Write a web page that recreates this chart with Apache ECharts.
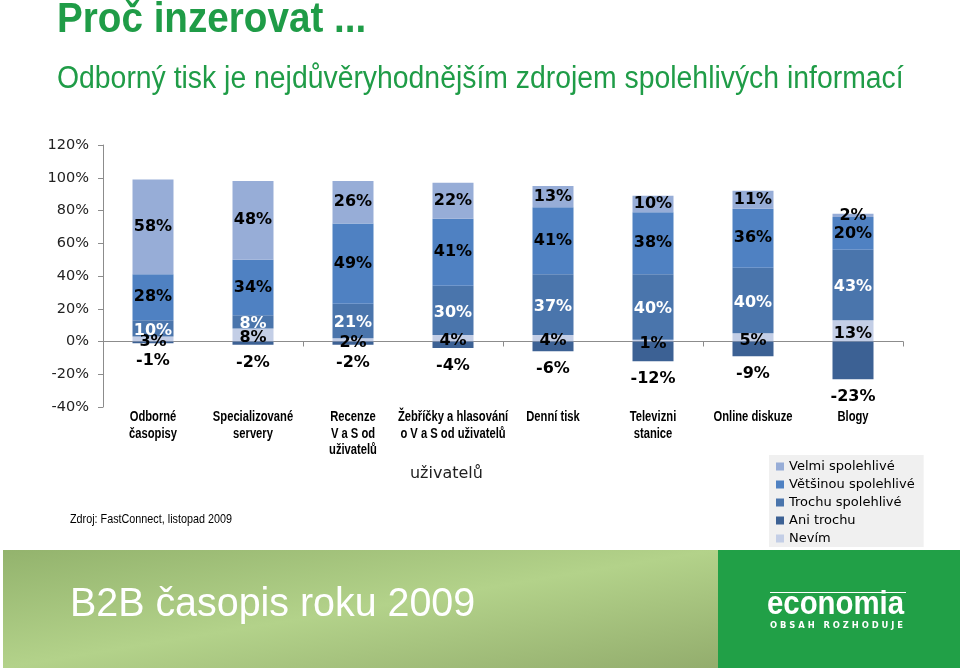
<!DOCTYPE html>
<html>
<head>
<meta charset="utf-8">
<script src="https://cdn.jsdelivr.net/npm/echarts@6/dist/echarts.min.js"></script>
<style>
html,body{margin:0;padding:0;background:#fff;}
#chart{width:960px;height:671px;}
</style>
</head>
<body>
<div id="chart"></div>
<script>
// ---- data ----
const categories = ['Odborné\nčasopisy', 'Specializované\nservery', 'Recenze\nV a S od\nuživatelů', 'Žebříčky a hlasování\no V a S od uživatelů', 'Denní tisk', 'Televizni\nstanice', 'Online diskuze', 'Blogy'];
const seriesNames = ['Velmi spolehlivé', 'Většinou spolehlivé', 'Trochu spolehlivé', 'Ani trochu', 'Nevím'];
const velmi = [58, 48, 26, 22, 13, 10, 11, 2];
const vetsinou = [28, 34, 49, 41, 41, 38, 36, 20];
const trochu = [10, 8, 21, 30, 37, 40, 40, 43];
const aniTrochu = [-1, -2, -2, -4, -6, -12, -9, -23];
const nevim = [3, 8, 2, 4, 4, 1, 5, 13];
const yMin = -40, yMax = 120, yStep = 20;

const SANS = '"Liberation Sans", Arial, sans-serif';
const VERD = '"DejaVu Sans", Verdana, sans-serif';
const GREEN = '#1f9c47';

const chart = echarts.init(document.getElementById('chart'), null, {renderer: 'canvas'});

function lbl(color, pos, extra) {
  return Object.assign({
    show: true, position: pos || 'inside', formatter: '{c}%',
    color: color, fontFamily: VERD, fontWeight: 'bold', fontSize: 16
  }, extra || {});
}

function txt(x, y, text, font, fill, sx, align) {
  return {type: 'text', x: x, y: y, scaleX: sx || 1, scaleY: 1,
    style: {x: 0, y: 0, text: text, font: font, fill: fill, align: align || 'left', verticalAlign: 'top'}};
}

const baseGraphic = [
  txt(57, -1, 'Proč inzerovat ...', 'bold 42px ' + SANS, GREEN, 0.92),
  txt(57, 64, 'Odborný tisk je nejdůvěryhodnějším zdrojem spolehlivých informací', '31px ' + SANS, GREEN, 0.915),
  txt(70, 513, 'Zdroj: FastConnect, listopad 2009', '13px ' + SANS, '#000', 0.83),
  txt(410, 466, 'uživatelů', '15.5px ' + VERD, '#222', 1.03),
  {type: 'rect', shape: {x: 3, y: 550, width: 716, height: 118}, style: {
    fill: new echarts.graphic.LinearGradient(0, 0, 0.053, 1.945, [
      {offset: 0, color: '#93b36d'}, {offset: 0.5, color: '#b3d28a'}, {offset: 1, color: '#93ad6d'}])}},
  {type: 'rect', shape: {x: 718, y: 550, width: 242, height: 118}, style: {fill: '#21a047'}},
  txt(70, 585, 'B2B časopis roku 2009', '40px ' + SANS, '#fff', 0.985),
  {type: 'rect', shape: {x: 770, y: 592, width: 136, height: 1}, style: {fill: '#ffffff'}},
  txt(767, 588, 'economia', 'bold 33px ' + SANS, '#fff', 0.89),
  txt(770, 621, 'O B S A H   R O Z H O D U J E', 'bold 9px ' + VERD, '#fff', 0.93)
];

const barW = 41;
const option = {
  animation: false,
  backgroundColor: '#ffffff',
  grid: {left: 103, right: 57, top: 145, bottom: 264, containLabel: false},
  legend: {
    orient: 'vertical', left: 769, top: 455,
    data: seriesNames,
    icon: 'rect', itemWidth: 8, itemHeight: 8, itemGap: 5,
    backgroundColor: '#f0f0f0', padding: [5, 9, 2, 7],
    textStyle: {fontFamily: VERD, fontSize: 13, color: '#000'}
  },
  xAxis: {
    type: 'category', data: categories, position: 'bottom',
    axisLine: {onZero: true, lineStyle: {color: '#8c8c8c', width: 1}},
    axisTick: {show: true, length: 5, lineStyle: {color: '#8c8c8c'}},
    axisLabel: {show: false}, splitLine: {show: false}
  },
  yAxis: {
    type: 'value', min: yMin, max: yMax, interval: yStep,
    axisLine: {show: true, lineStyle: {color: '#8c8c8c'}},
    axisTick: {show: true, length: 5, lineStyle: {color: '#8c8c8c'}},
    splitLine: {show: false},
    axisLabel: {formatter: '{value}%', fontFamily: VERD, fontSize: 14.5, color: '#222', margin: 14}
  },
  series: [
    {name: 'Nevím', type: 'bar', stack: 'a', barWidth: barW, data: nevim,
      itemStyle: {color: '#c3cee6'}, label: lbl('#000', 'inside', {offset: [0, 3]})},
    {name: 'Trochu spolehlivé', type: 'bar', stack: 'a', barWidth: barW, data: trochu,
      itemStyle: {color: '#4a75ac'}, label: lbl('#fff', 'inside', {offset: [0, 2]})},
    {name: 'Většinou spolehlivé', type: 'bar', stack: 'a', barWidth: barW, data: vetsinou,
      itemStyle: {color: '#4f81c2'}, label: lbl('#000')},
    {name: 'Velmi spolehlivé', type: 'bar', stack: 'a', barWidth: barW, data: velmi,
      itemStyle: {color: '#97add7'}, label: lbl('#000')},
    {name: 'Ani trochu', type: 'bar', stack: 'a', barWidth: barW, data: aniTrochu,
      itemStyle: {color: '#3c6194'}, label: lbl('#000', 'bottom', {distance: 10})}
  ],
  graphic: baseGraphic
};
chart.setOption(option);

// category labels (condensed look) placed through the category axis scale
const bottomY = chart.convertToPixel({yAxisIndex: 0}, yMin);
const catGraphic = categories.map(function (c, i) {
  const cx = chart.convertToPixel({xAxisIndex: 0}, i);
  const t = txt(cx, bottomY + 2, c, 'bold 14px ' + SANS, '#000', 0.8, 'center');
  t.style.lineHeight = 16.5;
  return t;
});
chart.setOption({graphic: baseGraphic.concat(catGraphic)});
</script>
</body>
</html>
